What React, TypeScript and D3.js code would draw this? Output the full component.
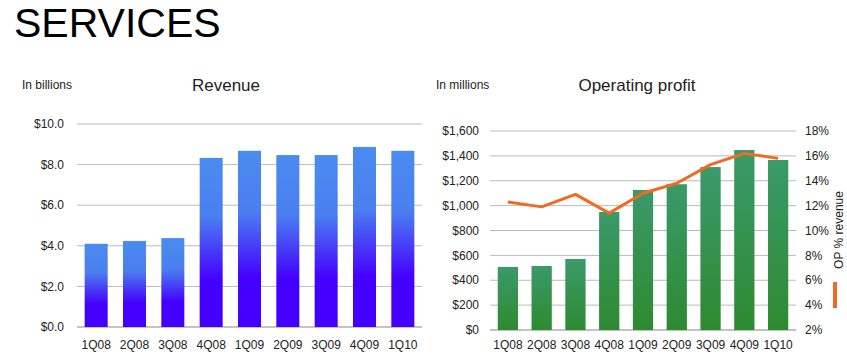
import React from "react";
import * as d3 from "d3";

const quarters = ["1Q08", "2Q08", "3Q08", "4Q08", "1Q09", "2Q09", "3Q09", "4Q09", "1Q10"];
const revenue = [4.1, 4.24, 4.38, 8.33, 8.68, 8.47, 8.47, 8.87, 8.68];
const opProfit = [507, 515, 571, 949, 1126, 1172, 1310, 1447, 1367];
const opPct = [12.3, 11.9, 12.9, 11.4, 13.0, 13.8, 15.3, 16.2, 15.8];
const revTicks = [0, 2, 4, 6, 8, 10];
const opTicks = [0, 200, 400, 600, 800, 1000, 1200, 1400, 1600];
const pctTicks = [2, 4, 6, 8, 10, 12, 14, 16, 18];

const FONT = "Liberation Sans, Arial, sans-serif";
const TXT = "#222";

export default function App() {
  // Left chart
  const lx = d3.scaleBand<string>().domain(quarters).range([77, 422]).paddingInner(0.4).paddingOuter(0.2);
  const ly = d3.scaleLinear().domain([0, 10]).range([327, 124]);
  // Right chart
  const rx = d3.scaleBand<string>().domain(quarters).range([491, 795]).paddingInner(0.4).paddingOuter(0.2);
  const ry = d3.scaleLinear().domain([0, 1600]).range([330, 131]);
  const rp = d3.scaleLinear().domain([2, 18]).range([330, 131]);

  const line = d3
    .line<number>()
    .x((_, i) => (rx(quarters[i]) as number) + rx.bandwidth() / 2)
    .y((d) => rp(d));

  const fmtRev = (v: number) => "$" + d3.format(".1f")(v);
  const fmtOp = (v: number) => "$" + d3.format(",")(v);

  return (
    <svg width={847} height={361} style={{ position: "absolute", left: 0, top: 0, background: "#fff" }} fontFamily={FONT}>
      <defs>
        <linearGradient id="blueGrad" x1="0" y1="0" x2="0" y2="1">
          <stop offset="0" stopColor="#4a8cf0" />
          <stop offset="0.35" stopColor="#4a7ef0" />
          <stop offset="0.72" stopColor="#4400fe" />
          <stop offset="1" stopColor="#4400fe" />
        </linearGradient>
        <linearGradient id="greenGrad" x1="0" y1="0" x2="0" y2="1">
          <stop offset="0" stopColor="#3a9a6a" />
          <stop offset="1" stopColor="#2e8a30" />
        </linearGradient>
      </defs>

      <text x={14} y={37} fontSize={41} fill="#000">SERVICES</text>

      {/* Left chart */}
      <text x={22} y={89} fontSize={12} fill={TXT}>In billions</text>
      <text x={226} y={91} fontSize={17} fill={TXT} textAnchor="middle">Revenue</text>
      {revTicks.map((t) => (
        <g key={"lt" + t}>
          <line x1={77} x2={422} y1={ly(t)} y2={ly(t)} stroke={t === 0 ? "#888" : "#bbb"} strokeWidth={1} />
          <text x={64} y={ly(t)} dy="0.35em" fontSize={12} fill={TXT} textAnchor="end">{fmtRev(t)}</text>
        </g>
      ))}
      {revenue.map((v, i) => (
        <rect key={"lb" + i} x={lx(quarters[i])} y={ly(v)} width={lx.bandwidth()} height={ly(0) - ly(v)} fill="url(#blueGrad)" />
      ))}
      {quarters.map((q) => (
        <text key={"lx" + q} x={(lx(q) as number) + lx.bandwidth() / 2} y={345} dy="0.35em" fontSize={12} fill={TXT} textAnchor="middle">{q}</text>
      ))}

      {/* Right chart */}
      <text x={436} y={89} fontSize={12} fill={TXT}>In millions</text>
      <text x={637} y={91} fontSize={17} fill={TXT} textAnchor="middle">Operating profit</text>
      {opTicks.map((t) => (
        <g key={"rt" + t}>
          <line x1={490} x2={796} y1={ry(t)} y2={ry(t)} stroke={t === 0 ? "#888" : "#bbb"} strokeWidth={1} />
          <text x={479} y={ry(t)} dy="0.35em" fontSize={12} fill={TXT} textAnchor="end">{fmtOp(t)}</text>
        </g>
      ))}
      {pctTicks.map((t) => (
        <text key={"pt" + t} x={805} y={rp(t)} dy="0.35em" fontSize={12} fill={TXT}>{t + "%"}</text>
      ))}
      {opProfit.map((v, i) => (
        <rect key={"rb" + i} x={rx(quarters[i])} y={ry(v)} width={rx.bandwidth()} height={ry(0) - ry(v)} fill="url(#greenGrad)" />
      ))}
      <path d={line(opPct) || ""} fill="none" stroke="#f26a22" strokeWidth={3} strokeLinejoin="round" />
      {quarters.map((q) => (
        <text key={"rx" + q} x={(rx(q) as number) + rx.bandwidth() / 2} y={345} dy="0.35em" fontSize={12} fill={TXT} textAnchor="middle">{q}</text>
      ))}
      <text transform="translate(843,230) rotate(-90)" fontSize={12} fill={TXT} textAnchor="middle">OP % revenue</text>
      <line x1={835} x2={835} y1={282} y2={308} stroke="#f26a22" strokeWidth={4} />
    </svg>
  );
}
